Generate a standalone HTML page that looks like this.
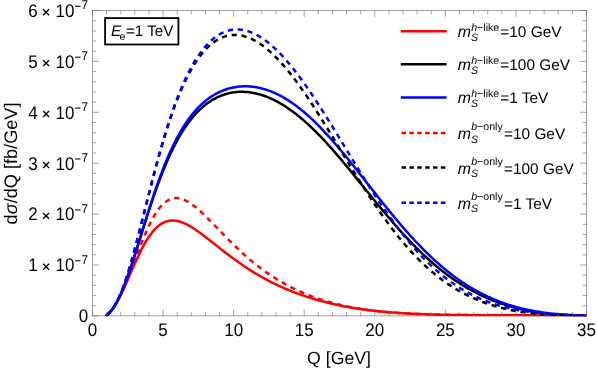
<!DOCTYPE html>
<html><head><meta charset="utf-8"><title>plot</title>
<style>html,body{margin:0;padding:0;background:#fff}svg{display:block}svg{will-change:transform}text{font-family:"Liberation Sans",sans-serif;fill:#000;text-rendering:geometricPrecision}</style>
</head><body>
<svg width="598" height="371" viewBox="0 0 598 371">
<rect width="598" height="371" fill="#fff"/>
<rect x="92.50" y="10.50" width="493.99" height="305.40" fill="none" stroke="#666666" stroke-width="0.6"/>
<clipPath id="pc"><rect x="90.50" y="8.50" width="496.39" height="307.70"/></clipPath>
<g fill="none" stroke-width="2.5" stroke-linejoin="round" clip-path="url(#pc)">
<path d="M106.61,315.40 L106.97,315.19 L107.32,314.91 L107.67,314.59 L108.03,314.26 L108.38,313.92 L108.73,313.57 L109.08,313.20 L109.44,312.83 L109.79,312.44 L110.14,312.04 L110.50,311.63 L110.85,311.20 L111.20,310.77 L111.55,310.33 L111.91,309.87 L112.26,309.40 L112.61,308.92 L112.97,308.43 L113.32,307.92 L113.67,307.41 L114.02,306.88 L114.38,306.35 L114.73,305.80 L115.08,305.24 L115.44,304.67 L115.79,304.09 L116.14,303.50 L116.49,302.90 L116.85,302.28 L117.20,301.66 L117.55,301.03 L117.91,300.39 L118.26,299.74 L118.61,299.08 L118.96,298.41 L119.32,297.73 L119.67,297.05 L120.02,296.35 L120.38,295.65 L120.73,294.94 L121.08,294.23 L121.43,293.50 L121.79,292.77 L122.14,292.03 L122.49,291.29 L122.85,290.54 L123.20,289.79 L123.55,289.02 L123.90,288.26 L124.26,287.49 L124.61,286.71 L124.96,285.93 L125.32,285.15 L125.67,284.36 L126.02,283.57 L126.37,282.78 L126.73,281.98 L127.08,281.18 L127.43,280.38 L127.78,279.58 L128.14,278.77 L128.49,277.97 L128.84,277.16 L129.20,276.35 L129.55,275.54 L129.90,274.73 L130.25,273.92 L130.61,273.12 L130.96,272.31 L131.31,271.50 L131.67,270.69 L132.02,269.89 L132.37,269.08 L132.72,268.28 L133.08,267.48 L133.43,266.69 L133.78,265.89 L134.14,265.10 L134.49,264.31 L134.84,263.53 L136.25,260.42 L137.66,257.38 L139.08,254.43 L140.49,251.57 L141.90,248.80 L143.31,246.15 L144.72,243.62 L146.13,241.21 L147.54,238.93 L148.96,236.78 L150.37,234.77 L151.78,232.90 L153.19,231.16 L154.60,229.57 L156.01,228.11 L157.42,226.79 L158.84,225.60 L160.25,224.55 L161.66,223.63 L163.07,222.83 L164.48,222.16 L165.89,221.61 L167.30,221.17 L168.72,220.85 L170.13,220.63 L171.54,220.51 L172.95,220.49 L174.36,220.57 L175.77,220.73 L177.18,220.97 L178.60,221.30 L180.01,221.69 L181.42,222.16 L182.83,222.69 L184.24,223.28 L185.65,223.93 L187.06,224.63 L188.48,225.38 L189.89,226.17 L191.30,227.01 L192.71,227.88 L194.12,228.79 L195.53,229.73 L196.94,230.69 L198.36,231.68 L199.77,232.70 L201.18,233.73 L202.59,234.78 L204.00,235.84 L205.41,236.92 L206.82,238.01 L208.23,239.10 L209.65,240.21 L211.06,241.32 L212.47,242.43 L213.88,243.54 L215.29,244.66 L216.70,245.78 L218.11,246.89 L219.53,248.00 L220.94,249.11 L222.35,250.21 L223.76,251.30 L225.17,252.39 L226.58,253.48 L227.99,254.55 L229.41,255.62 L230.82,256.67 L232.23,257.72 L233.64,258.76 L235.05,259.79 L236.46,260.80 L237.87,261.81 L239.29,262.81 L240.70,263.79 L242.11,264.76 L243.52,265.72 L244.93,266.67 L246.34,267.61 L247.75,268.53 L249.17,269.44 L250.58,270.34 L251.99,271.23 L253.40,272.10 L254.81,272.96 L256.22,273.81 L257.63,274.65 L259.05,275.48 L260.46,276.29 L261.87,277.09 L263.28,277.88 L264.69,278.65 L266.10,279.42 L267.51,280.17 L268.93,280.91 L270.34,281.64 L271.75,282.35 L273.16,283.06 L274.57,283.75 L275.98,284.44 L277.39,285.11 L278.80,285.77 L280.22,286.42 L281.63,287.06 L283.04,287.68 L284.45,288.30 L285.86,288.91 L287.27,289.50 L288.68,290.09 L290.10,290.67 L291.51,291.23 L292.92,291.79 L294.33,292.34 L295.74,292.87 L297.15,293.40 L298.56,293.92 L299.98,294.43 L301.39,294.93 L302.80,295.42 L304.21,295.90 L305.62,296.37 L307.03,296.83 L308.44,297.29 L309.86,297.74 L311.27,298.17 L312.68,298.61 L314.09,299.03 L315.50,299.44 L316.91,299.85 L318.32,300.25 L319.74,300.64 L321.15,301.02 L322.56,301.39 L323.97,301.76 L325.38,302.12 L326.79,302.47 L328.20,302.82 L329.62,303.16 L331.03,303.49 L332.44,303.82 L333.85,304.13 L335.26,304.45 L336.67,304.75 L338.08,305.05 L339.50,305.34 L340.91,305.63 L342.32,305.91 L343.73,306.18 L345.14,306.45 L346.55,306.71 L347.96,306.96 L349.37,307.21 L350.79,307.46 L352.20,307.69 L353.61,307.93 L355.02,308.15 L356.43,308.37 L357.84,308.59 L359.25,308.80 L360.67,309.01 L362.08,309.21 L363.49,309.40 L364.90,309.59 L366.31,309.78 L367.72,309.96 L369.13,310.14 L370.55,310.31 L371.96,310.48 L373.37,310.64 L374.78,310.80 L376.19,310.95 L377.60,311.10 L379.01,311.25 L380.43,311.39 L381.84,311.53 L383.25,311.66 L384.66,311.80 L386.07,311.92 L387.48,312.04 L388.89,312.16 L390.31,312.28 L391.72,312.39 L393.13,312.50 L394.54,312.61 L395.95,312.71 L397.36,312.81 L398.77,312.91 L400.19,313.00 L401.60,313.09 L403.01,313.18 L404.42,313.26 L405.83,313.35 L407.24,313.43 L408.65,313.50 L410.06,313.58 L411.48,313.65 L412.89,313.72 L414.30,313.79 L415.71,313.85 L417.12,313.91 L418.53,313.97 L419.94,314.03 L421.36,314.09 L422.77,314.14 L424.18,314.20 L425.59,314.25 L427.00,314.30 L428.41,314.34 L429.82,314.39 L431.24,314.43 L432.65,314.47 L434.06,314.51 L435.47,314.55 L436.88,314.59 L438.29,314.63 L439.70,314.66 L441.12,314.69 L442.53,314.72 L443.94,314.76 L445.35,314.79 L446.76,314.81 L448.17,314.84 L449.58,314.87 L451.00,314.89 L452.41,314.92 L453.82,314.94 L455.23,314.96 L456.64,314.98 L458.05,315.00 L459.46,315.02 L460.88,315.04 L462.29,315.06 L463.70,315.07 L465.11,315.09 L466.52,315.11 L467.93,315.12 L469.34,315.13 L470.76,315.15 L472.17,315.16 L473.58,315.17 L474.99,315.18 L476.40,315.20 L477.81,315.21 L479.22,315.22 L480.64,315.23 L482.05,315.24 L483.46,315.24 L484.87,315.25 L486.28,315.26 L487.69,315.27 L489.10,315.28 L490.51,315.28 L491.93,315.29 L493.34,315.30 L494.75,315.30 L496.16,315.31 L497.57,315.31 L498.98,315.32 L500.39,315.32 L501.81,315.33 L503.22,315.33 L504.63,315.34 L506.04,315.34 L507.45,315.34 L508.86,315.35 L510.27,315.35 L511.69,315.35 L513.10,315.36 L514.51,315.36 L515.92,315.36 L517.33,315.36 L518.74,315.37 L520.15,315.37 L521.57,315.37 L522.98,315.37 L524.39,315.38 L525.80,315.38 L527.21,315.38 L528.62,315.38 L530.03,315.38 L531.45,315.38 L532.86,315.38 L534.27,315.39 L535.68,315.39 L537.09,315.39 L538.50,315.39 L539.91,315.39 L541.33,315.39 L542.74,315.39 L544.15,315.39 L545.56,315.39 L546.97,315.39 L548.38,315.39 L549.79,315.39 L551.21,315.40 L552.62,315.40 L554.03,315.40 L555.44,315.40 L556.85,315.40 L558.26,315.40 L559.67,315.40 L561.08,315.40 L562.50,315.40 L563.91,315.40 L565.32,315.40 L566.73,315.40 L568.14,315.40 L569.55,315.40 L570.96,315.40 L572.38,315.40 L573.79,315.40 L575.20,315.40 L576.61,315.40 L578.02,315.40 L579.43,315.40 L580.84,315.40 L582.26,315.40 L583.67,315.40 L585.08,315.40 L586.49,315.40" stroke="#ff0000" stroke-linecap="round"/>
<path d="M106.61,315.40 L106.97,315.30 L107.32,315.05 L107.67,314.73 L108.03,314.38 L108.38,314.00 L108.73,313.61 L109.08,313.21 L109.44,312.81 L109.79,312.40 L110.14,311.98 L110.50,311.55 L110.85,311.12 L111.20,310.68 L111.55,310.23 L111.91,309.78 L112.26,309.31 L112.61,308.84 L112.97,308.36 L113.32,307.87 L113.67,307.36 L114.02,306.85 L114.38,306.33 L114.73,305.80 L115.08,305.26 L115.44,304.70 L115.79,304.14 L116.14,303.57 L116.49,302.98 L116.85,302.39 L117.20,301.78 L117.55,301.16 L117.91,300.53 L118.26,299.89 L118.61,299.24 L118.96,298.58 L119.32,297.91 L119.67,297.23 L120.02,296.54 L120.38,295.83 L120.73,295.12 L121.08,294.40 L121.43,293.66 L121.79,292.92 L122.14,292.17 L122.49,291.40 L122.85,290.63 L123.20,289.85 L123.55,289.06 L123.90,288.26 L124.26,287.46 L124.61,286.64 L124.96,285.82 L125.32,284.99 L125.67,284.15 L126.02,283.30 L126.37,282.45 L126.73,281.59 L127.08,280.72 L127.43,279.85 L127.78,278.97 L128.14,278.08 L128.49,277.19 L128.84,276.30 L129.20,275.40 L129.55,274.49 L129.90,273.58 L130.25,272.67 L130.61,271.75 L130.96,270.83 L131.31,269.91 L131.67,268.98 L132.02,268.05 L132.37,267.12 L132.72,266.19 L133.08,265.25 L133.43,264.31 L133.78,263.38 L134.14,262.44 L134.49,261.50 L134.84,260.56 L136.25,256.80 L137.66,253.07 L139.08,249.37 L140.49,245.73 L141.90,242.15 L143.31,238.66 L144.72,235.27 L146.13,231.99 L147.54,228.83 L148.96,225.80 L150.37,222.91 L151.78,220.17 L153.19,217.58 L154.60,215.16 L156.01,212.89 L157.42,210.79 L158.84,208.86 L160.25,207.09 L161.66,205.49 L163.07,204.06 L164.48,202.78 L165.89,201.67 L167.30,200.72 L168.72,199.92 L170.13,199.28 L171.54,198.77 L172.95,198.41 L174.36,198.18 L175.77,198.08 L177.18,198.11 L178.60,198.25 L180.01,198.50 L181.42,198.87 L182.83,199.33 L184.24,199.89 L185.65,200.53 L187.06,201.27 L188.48,202.07 L189.89,202.96 L191.30,203.90 L192.71,204.92 L194.12,205.98 L195.53,207.10 L196.94,208.27 L198.36,209.49 L199.77,210.74 L201.18,212.03 L202.59,213.35 L204.00,214.69 L205.41,216.06 L206.82,217.46 L208.23,218.87 L209.65,220.29 L211.06,221.73 L212.47,223.18 L213.88,224.63 L215.29,226.09 L216.70,227.56 L218.11,229.02 L219.53,230.49 L220.94,231.95 L222.35,233.41 L223.76,234.86 L225.17,236.31 L226.58,237.74 L227.99,239.17 L229.41,240.59 L230.82,242.00 L232.23,243.39 L233.64,244.77 L235.05,246.14 L236.46,247.50 L237.87,248.84 L239.29,250.17 L240.70,251.48 L242.11,252.77 L243.52,254.05 L244.93,255.31 L246.34,256.55 L247.75,257.78 L249.17,258.99 L250.58,260.18 L251.99,261.36 L253.40,262.52 L254.81,263.66 L256.22,264.78 L257.63,265.89 L259.05,266.98 L260.46,268.05 L261.87,269.10 L263.28,270.14 L264.69,271.16 L266.10,272.16 L267.51,273.14 L268.93,274.11 L270.34,275.06 L271.75,276.00 L273.16,276.91 L274.57,277.82 L275.98,278.70 L277.39,279.57 L278.80,280.43 L280.22,281.26 L281.63,282.09 L283.04,282.90 L284.45,283.69 L285.86,284.47 L287.27,285.23 L288.68,285.98 L290.10,286.71 L291.51,287.43 L292.92,288.14 L294.33,288.83 L295.74,289.51 L297.15,290.17 L298.56,290.83 L299.98,291.46 L301.39,292.09 L302.80,292.70 L304.21,293.30 L305.62,293.89 L307.03,294.47 L308.44,295.03 L309.86,295.58 L311.27,296.12 L312.68,296.65 L314.09,297.17 L315.50,297.68 L316.91,298.17 L318.32,298.66 L319.74,299.13 L321.15,299.59 L322.56,300.05 L323.97,300.49 L325.38,300.92 L326.79,301.34 L328.20,301.76 L329.62,302.16 L331.03,302.55 L332.44,302.94 L333.85,303.31 L335.26,303.68 L336.67,304.04 L338.08,304.39 L339.50,304.73 L340.91,305.06 L342.32,305.38 L343.73,305.70 L345.14,306.00 L346.55,306.30 L347.96,306.60 L349.37,306.88 L350.79,307.16 L352.20,307.43 L353.61,307.69 L355.02,307.94 L356.43,308.19 L357.84,308.43 L359.25,308.67 L360.67,308.89 L362.08,309.12 L363.49,309.33 L364.90,309.54 L366.31,309.74 L367.72,309.94 L369.13,310.13 L370.55,310.32 L371.96,310.50 L373.37,310.68 L374.78,310.85 L376.19,311.01 L377.60,311.17 L379.01,311.32 L380.43,311.47 L381.84,311.62 L383.25,311.76 L384.66,311.90 L386.07,312.03 L387.48,312.15 L388.89,312.28 L390.31,312.40 L391.72,312.51 L393.13,312.62 L394.54,312.73 L395.95,312.84 L397.36,312.94 L398.77,313.03 L400.19,313.13 L401.60,313.22 L403.01,313.30 L404.42,313.39 L405.83,313.47 L407.24,313.55 L408.65,313.62 L410.06,313.70 L411.48,313.77 L412.89,313.83 L414.30,313.90 L415.71,313.96 L417.12,314.02 L418.53,314.08 L419.94,314.13 L421.36,314.19 L422.77,314.24 L424.18,314.29 L425.59,314.34 L427.00,314.38 L428.41,314.43 L429.82,314.47 L431.24,314.51 L432.65,314.55 L434.06,314.59 L435.47,314.62 L436.88,314.66 L438.29,314.69 L439.70,314.72 L441.12,314.75 L442.53,314.78 L443.94,314.81 L445.35,314.83 L446.76,314.86 L448.17,314.88 L449.58,314.91 L451.00,314.93 L452.41,314.95 L453.82,314.97 L455.23,314.99 L456.64,315.01 L458.05,315.03 L459.46,315.05 L460.88,315.06 L462.29,315.08 L463.70,315.09 L465.11,315.11 L466.52,315.12 L467.93,315.13 L469.34,315.15 L470.76,315.16 L472.17,315.17 L473.58,315.18 L474.99,315.19 L476.40,315.20 L477.81,315.21 L479.22,315.22 L480.64,315.23 L482.05,315.24 L483.46,315.25 L484.87,315.25 L486.28,315.26 L487.69,315.27 L489.10,315.27 L490.51,315.28 L491.93,315.29 L493.34,315.29 L494.75,315.30 L496.16,315.30 L497.57,315.31 L498.98,315.31 L500.39,315.32 L501.81,315.32 L503.22,315.32 L504.63,315.33 L506.04,315.33 L507.45,315.34 L508.86,315.34 L510.27,315.34 L511.69,315.35 L513.10,315.35 L514.51,315.35 L515.92,315.35 L517.33,315.36 L518.74,315.36 L520.15,315.36 L521.57,315.36 L522.98,315.36 L524.39,315.37 L525.80,315.37 L527.21,315.37 L528.62,315.37 L530.03,315.37 L531.45,315.38 L532.86,315.38 L534.27,315.38 L535.68,315.38 L537.09,315.38 L538.50,315.38 L539.91,315.38 L541.33,315.38 L542.74,315.39 L544.15,315.39 L545.56,315.39 L546.97,315.39 L548.38,315.39 L549.79,315.39 L551.21,315.39 L552.62,315.39 L554.03,315.39 L555.44,315.39 L556.85,315.39 L558.26,315.39 L559.67,315.39 L561.08,315.40 L562.50,315.40 L563.91,315.40 L565.32,315.40 L566.73,315.40 L568.14,315.40 L569.55,315.40 L570.96,315.40 L572.38,315.40 L573.79,315.40 L575.20,315.40 L576.61,315.40 L578.02,315.40 L579.43,315.40 L580.84,315.40 L582.26,315.40 L583.67,315.40 L585.08,315.40 L586.49,315.40" stroke="#ff0000" stroke-dasharray="5.2 4.7"/>
<path d="M106.61,315.40 L106.97,314.99 L107.32,314.64 L107.67,314.30 L108.03,313.97 L108.38,313.64 L108.73,313.29 L109.08,312.94 L109.44,312.58 L109.79,312.21 L110.14,311.83 L110.50,311.44 L110.85,311.03 L111.20,310.61 L111.55,310.18 L111.91,309.73 L112.26,309.27 L112.61,308.80 L112.97,308.31 L113.32,307.81 L113.67,307.29 L114.02,306.76 L114.38,306.22 L114.73,305.66 L115.08,305.08 L115.44,304.50 L115.79,303.90 L116.14,303.28 L116.49,302.65 L116.85,302.01 L117.20,301.35 L117.55,300.68 L117.91,300.00 L118.26,299.30 L118.61,298.59 L118.96,297.86 L119.32,297.13 L119.67,296.38 L120.02,295.61 L120.38,294.84 L120.73,294.05 L121.08,293.25 L121.43,292.44 L121.79,291.61 L122.14,290.78 L122.49,289.93 L122.85,289.07 L123.20,288.20 L123.55,287.32 L123.90,286.43 L124.26,285.53 L124.61,284.62 L124.96,283.70 L125.32,282.77 L125.67,281.83 L126.02,280.88 L126.37,279.92 L126.73,278.95 L127.08,277.98 L127.43,276.99 L127.78,276.00 L128.14,275.00 L128.49,273.99 L128.84,272.98 L129.20,271.95 L129.55,270.93 L129.90,269.89 L130.25,268.85 L130.61,267.80 L130.96,266.75 L131.31,265.69 L131.67,264.62 L132.02,263.55 L132.37,262.48 L132.72,261.40 L133.08,260.32 L133.43,259.23 L133.78,258.14 L134.14,257.04 L134.49,255.94 L134.84,254.84 L136.25,250.40 L137.66,245.93 L139.08,241.43 L140.49,236.92 L141.90,232.42 L143.31,227.93 L144.72,223.47 L146.13,219.03 L147.54,214.64 L148.96,210.30 L150.37,206.02 L151.78,201.80 L153.19,197.65 L154.60,193.57 L156.01,189.57 L157.42,185.66 L158.84,181.83 L160.25,178.09 L161.66,174.43 L163.07,170.88 L164.48,167.41 L165.89,164.04 L167.30,160.76 L168.72,157.58 L170.13,154.49 L171.54,151.50 L172.95,148.60 L174.36,145.80 L175.77,143.09 L177.18,140.47 L178.60,137.94 L180.01,135.49 L181.42,133.14 L182.83,130.87 L184.24,128.68 L185.65,126.58 L187.06,124.56 L188.48,122.61 L189.89,120.75 L191.30,118.96 L192.71,117.24 L194.12,115.59 L195.53,114.01 L196.94,112.50 L198.36,111.06 L199.77,109.68 L201.18,108.37 L202.59,107.12 L204.00,105.92 L205.41,104.79 L206.82,103.71 L208.23,102.69 L209.65,101.72 L211.06,100.80 L212.47,99.93 L213.88,99.12 L215.29,98.35 L216.70,97.63 L218.11,96.96 L219.53,96.34 L220.94,95.75 L222.35,95.22 L223.76,94.72 L225.17,94.27 L226.58,93.85 L227.99,93.48 L229.41,93.15 L230.82,92.85 L232.23,92.59 L233.64,92.37 L235.05,92.19 L236.46,92.04 L237.87,91.93 L239.29,91.85 L240.70,91.81 L242.11,91.80 L243.52,91.83 L244.93,91.89 L246.34,91.98 L247.75,92.10 L249.17,92.26 L250.58,92.45 L251.99,92.67 L253.40,92.92 L254.81,93.20 L256.22,93.51 L257.63,93.86 L259.05,94.23 L260.46,94.63 L261.87,95.07 L263.28,95.53 L264.69,96.02 L266.10,96.54 L267.51,97.09 L268.93,97.67 L270.34,98.28 L271.75,98.91 L273.16,99.58 L274.57,100.27 L275.98,100.99 L277.39,101.73 L278.80,102.51 L280.22,103.31 L281.63,104.14 L283.04,104.99 L284.45,105.87 L285.86,106.78 L287.27,107.72 L288.68,108.68 L290.10,109.66 L291.51,110.67 L292.92,111.71 L294.33,112.77 L295.74,113.86 L297.15,114.97 L298.56,116.10 L299.98,117.26 L301.39,118.44 L302.80,119.64 L304.21,120.87 L305.62,122.12 L307.03,123.39 L308.44,124.68 L309.86,125.99 L311.27,127.33 L312.68,128.68 L314.09,130.06 L315.50,131.45 L316.91,132.86 L318.32,134.30 L319.74,135.75 L321.15,137.21 L322.56,138.70 L323.97,140.20 L325.38,141.72 L326.79,143.25 L328.20,144.80 L329.62,146.37 L331.03,147.94 L332.44,149.54 L333.85,151.14 L335.26,152.76 L336.67,154.39 L338.08,156.03 L339.50,157.68 L340.91,159.34 L342.32,161.01 L343.73,162.69 L345.14,164.38 L346.55,166.08 L347.96,167.78 L349.37,169.49 L350.79,171.21 L352.20,172.93 L353.61,174.66 L355.02,176.39 L356.43,178.13 L357.84,179.87 L359.25,181.61 L360.67,183.35 L362.08,185.09 L363.49,186.84 L364.90,188.58 L366.31,190.33 L367.72,192.07 L369.13,193.81 L370.55,195.55 L371.96,197.29 L373.37,199.02 L374.78,200.75 L376.19,202.48 L377.60,204.20 L379.01,205.92 L380.43,207.62 L381.84,209.33 L383.25,211.02 L384.66,212.71 L386.07,214.39 L387.48,216.07 L388.89,217.73 L390.31,219.38 L391.72,221.03 L393.13,222.66 L394.54,224.29 L395.95,225.90 L397.36,227.50 L398.77,229.09 L400.19,230.67 L401.60,232.24 L403.01,233.79 L404.42,235.33 L405.83,236.86 L407.24,238.37 L408.65,239.87 L410.06,241.36 L411.48,242.83 L412.89,244.28 L414.30,245.73 L415.71,247.15 L417.12,248.56 L418.53,249.96 L419.94,251.34 L421.36,252.70 L422.77,254.05 L424.18,255.38 L425.59,256.70 L427.00,258.00 L428.41,259.28 L429.82,260.55 L431.24,261.80 L432.65,263.03 L434.06,264.25 L435.47,265.44 L436.88,266.63 L438.29,267.79 L439.70,268.94 L441.12,270.07 L442.53,271.19 L443.94,272.28 L445.35,273.36 L446.76,274.43 L448.17,275.47 L449.58,276.50 L451.00,277.52 L452.41,278.51 L453.82,279.49 L455.23,280.46 L456.64,281.40 L458.05,282.33 L459.46,283.25 L460.88,284.14 L462.29,285.03 L463.70,285.89 L465.11,286.74 L466.52,287.57 L467.93,288.39 L469.34,289.20 L470.76,289.98 L472.17,290.75 L473.58,291.51 L474.99,292.25 L476.40,292.98 L477.81,293.69 L479.22,294.39 L480.64,295.07 L482.05,295.74 L483.46,296.40 L484.87,297.04 L486.28,297.67 L487.69,298.28 L489.10,298.88 L490.51,299.47 L491.93,300.04 L493.34,300.60 L494.75,301.15 L496.16,301.69 L497.57,302.21 L498.98,302.72 L500.39,303.22 L501.81,303.70 L503.22,304.18 L504.63,304.64 L506.04,305.09 L507.45,305.53 L508.86,305.96 L510.27,306.38 L511.69,306.78 L513.10,307.18 L514.51,307.56 L515.92,307.93 L517.33,308.30 L518.74,308.65 L520.15,308.99 L521.57,309.32 L522.98,309.65 L524.39,309.96 L525.80,310.26 L527.21,310.55 L528.62,310.84 L530.03,311.11 L531.45,311.37 L532.86,311.63 L534.27,311.87 L535.68,312.11 L537.09,312.33 L538.50,312.55 L539.91,312.76 L541.33,312.96 L542.74,313.15 L544.15,313.34 L545.56,313.51 L546.97,313.67 L548.38,313.83 L549.79,313.98 L551.21,314.12 L552.62,314.25 L554.03,314.38 L555.44,314.49 L556.85,314.60 L558.26,314.70 L559.67,314.79 L561.08,314.88 L562.50,314.95 L563.91,315.02 L565.32,315.09 L566.73,315.14 L568.14,315.19 L569.55,315.24 L570.96,315.27 L572.38,315.30 L573.79,315.33 L575.20,315.35 L576.61,315.37 L578.02,315.38 L579.43,315.39 L580.84,315.39 L582.26,315.40 L583.67,315.40 L585.08,315.40 L586.49,315.40" stroke="#000000" stroke-linecap="round"/>
<path d="M106.61,315.40 L106.97,315.35 L107.32,315.15 L107.67,314.85 L108.03,314.50 L108.38,314.12 L108.73,313.71 L109.08,313.29 L109.44,312.86 L109.79,312.43 L110.14,311.98 L110.50,311.53 L110.85,311.07 L111.20,310.60 L111.55,310.13 L111.91,309.64 L112.26,309.15 L112.61,308.65 L112.97,308.13 L113.32,307.61 L113.67,307.08 L114.02,306.53 L114.38,305.98 L114.73,305.41 L115.08,304.83 L115.44,304.24 L115.79,303.64 L116.14,303.03 L116.49,302.41 L116.85,301.77 L117.20,301.12 L117.55,300.46 L117.91,299.78 L118.26,299.10 L118.61,298.40 L118.96,297.69 L119.32,296.97 L119.67,296.23 L120.02,295.49 L120.38,294.73 L120.73,293.96 L121.08,293.17 L121.43,292.38 L121.79,291.57 L122.14,290.75 L122.49,289.92 L122.85,289.08 L123.20,288.23 L123.55,287.37 L123.90,286.49 L124.26,285.61 L124.61,284.71 L124.96,283.81 L125.32,282.89 L125.67,281.97 L126.02,281.03 L126.37,280.08 L126.73,279.13 L127.08,278.17 L127.43,277.19 L127.78,276.21 L128.14,275.22 L128.49,274.22 L128.84,273.21 L129.20,272.20 L129.55,271.17 L129.90,270.14 L130.25,269.11 L130.61,268.06 L130.96,267.01 L131.31,265.95 L131.67,264.89 L132.02,263.82 L132.37,262.74 L132.72,261.66 L133.08,260.57 L133.43,259.48 L133.78,258.38 L134.14,257.28 L134.49,256.17 L134.84,255.06 L136.25,250.58 L137.66,246.05 L139.08,241.48 L140.49,236.89 L141.90,232.30 L143.31,227.70 L144.72,223.13 L146.13,218.58 L147.54,214.06 L148.96,209.60 L150.37,205.18 L151.78,200.83 L153.19,196.55 L154.60,192.34 L156.01,188.21 L157.42,184.17 L158.84,180.21 L160.25,176.35 L161.66,172.58 L163.07,168.90 L164.48,165.33 L165.89,161.85 L167.30,158.47 L168.72,155.20 L170.13,152.02 L171.54,148.94 L172.95,145.96 L174.36,143.08 L175.77,140.30 L177.18,137.61 L178.60,135.01 L180.01,132.51 L181.42,130.09 L182.83,127.77 L184.24,125.53 L185.65,123.38 L187.06,121.31 L188.48,119.32 L189.89,117.41 L191.30,115.57 L192.71,113.81 L194.12,112.12 L195.53,110.51 L196.94,108.96 L198.36,107.47 L199.77,106.06 L201.18,104.70 L202.59,103.41 L204.00,102.17 L205.41,100.99 L206.82,99.87 L208.23,98.80 L209.65,97.78 L211.06,96.82 L212.47,95.91 L213.88,95.04 L215.29,94.22 L216.70,93.45 L218.11,92.72 L219.53,92.04 L220.94,91.40 L222.35,90.80 L223.76,90.24 L225.17,89.72 L226.58,89.24 L227.99,88.80 L229.41,88.40 L230.82,88.03 L232.23,87.70 L233.64,87.41 L235.05,87.15 L236.46,86.93 L237.87,86.74 L239.29,86.59 L240.70,86.47 L242.11,86.38 L243.52,86.32 L244.93,86.30 L246.34,86.31 L247.75,86.35 L249.17,86.42 L250.58,86.53 L251.99,86.66 L253.40,86.83 L254.81,87.03 L256.22,87.25 L257.63,87.51 L259.05,87.80 L260.46,88.12 L261.87,88.47 L263.28,88.85 L264.69,89.26 L266.10,89.70 L267.51,90.16 L268.93,90.66 L270.34,91.19 L271.75,91.75 L273.16,92.33 L274.57,92.95 L275.98,93.59 L277.39,94.26 L278.80,94.96 L280.22,95.69 L281.63,96.45 L283.04,97.24 L284.45,98.05 L285.86,98.90 L287.27,99.77 L288.68,100.66 L290.10,101.59 L291.51,102.54 L292.92,103.52 L294.33,104.53 L295.74,105.56 L297.15,106.62 L298.56,107.70 L299.98,108.82 L301.39,109.95 L302.80,111.11 L304.21,112.30 L305.62,113.51 L307.03,114.74 L308.44,116.00 L309.86,117.28 L311.27,118.59 L312.68,119.92 L314.09,121.27 L315.50,122.64 L316.91,124.03 L318.32,125.44 L319.74,126.88 L321.15,128.33 L322.56,129.81 L323.97,131.30 L325.38,132.81 L326.79,134.34 L328.20,135.88 L329.62,137.45 L331.03,139.03 L332.44,140.62 L333.85,142.23 L335.26,143.86 L336.67,145.50 L338.08,147.15 L339.50,148.82 L340.91,150.50 L342.32,152.19 L343.73,153.89 L345.14,155.60 L346.55,157.32 L347.96,159.05 L349.37,160.79 L350.79,162.54 L352.20,164.29 L353.61,166.05 L355.02,167.82 L356.43,169.59 L357.84,171.37 L359.25,173.15 L360.67,174.94 L362.08,176.73 L363.49,178.52 L364.90,180.31 L366.31,182.11 L367.72,183.90 L369.13,185.70 L370.55,187.49 L371.96,189.29 L373.37,191.08 L374.78,192.87 L376.19,194.65 L377.60,196.44 L379.01,198.22 L380.43,199.99 L381.84,201.76 L383.25,203.52 L384.66,205.28 L386.07,207.03 L387.48,208.78 L388.89,210.51 L390.31,212.24 L391.72,213.96 L393.13,215.67 L394.54,217.37 L395.95,219.06 L397.36,220.75 L398.77,222.42 L400.19,224.07 L401.60,225.72 L403.01,227.36 L404.42,228.98 L405.83,230.59 L407.24,232.19 L408.65,233.78 L410.06,235.35 L411.48,236.90 L412.89,238.45 L414.30,239.98 L415.71,241.49 L417.12,242.99 L418.53,244.47 L419.94,245.94 L421.36,247.39 L422.77,248.83 L424.18,250.25 L425.59,251.66 L427.00,253.05 L428.41,254.42 L429.82,255.77 L431.24,257.11 L432.65,258.43 L434.06,259.74 L435.47,261.03 L436.88,262.30 L438.29,263.55 L439.70,264.79 L441.12,266.01 L442.53,267.21 L443.94,268.39 L445.35,269.56 L446.76,270.70 L448.17,271.84 L449.58,272.95 L451.00,274.04 L452.41,275.12 L453.82,276.18 L455.23,277.23 L456.64,278.25 L458.05,279.26 L459.46,280.25 L460.88,281.23 L462.29,282.18 L463.70,283.12 L465.11,284.05 L466.52,284.95 L467.93,285.84 L469.34,286.71 L470.76,287.57 L472.17,288.41 L473.58,289.23 L474.99,290.03 L476.40,290.82 L477.81,291.60 L479.22,292.36 L480.64,293.10 L482.05,293.82 L483.46,294.53 L484.87,295.23 L486.28,295.91 L487.69,296.57 L489.10,297.22 L490.51,297.86 L491.93,298.48 L493.34,299.08 L494.75,299.68 L496.16,300.25 L497.57,300.82 L498.98,301.37 L500.39,301.90 L501.81,302.42 L503.22,302.93 L504.63,303.43 L506.04,303.91 L507.45,304.38 L508.86,304.84 L510.27,305.29 L511.69,305.72 L513.10,306.14 L514.51,306.55 L515.92,306.94 L517.33,307.33 L518.74,307.70 L520.15,308.07 L521.57,308.42 L522.98,308.76 L524.39,309.09 L525.80,309.41 L527.21,309.72 L528.62,310.02 L530.03,310.30 L531.45,310.58 L532.86,310.85 L534.27,311.11 L535.68,311.36 L537.09,311.60 L538.50,311.83 L539.91,312.06 L541.33,312.27 L542.74,312.48 L544.15,312.68 L545.56,312.86 L546.97,313.05 L548.38,313.22 L549.79,313.38 L551.21,313.54 L552.62,313.69 L554.03,313.84 L555.44,313.97 L556.85,314.10 L558.26,314.22 L559.67,314.34 L561.08,314.45 L562.50,314.55 L563.91,314.65 L565.32,314.73 L566.73,314.82 L568.14,314.90 L569.55,314.97 L570.96,315.03 L572.38,315.09 L573.79,315.15 L575.20,315.20 L576.61,315.24 L578.02,315.28 L579.43,315.31 L580.84,315.34 L582.26,315.37 L583.67,315.38 L585.08,315.40 L586.49,315.40" stroke="#0000ff" stroke-linecap="round"/>
<path d="M106.61,315.40 L106.97,315.19 L107.32,314.88 L107.67,314.54 L108.03,314.20 L108.38,313.85 L108.73,313.49 L109.08,313.12 L109.44,312.75 L109.79,312.37 L110.14,311.97 L110.50,311.57 L110.85,311.15 L111.20,310.72 L111.55,310.28 L111.91,309.82 L112.26,309.36 L112.61,308.87 L112.97,308.38 L113.32,307.87 L113.67,307.34 L114.02,306.80 L114.38,306.24 L114.73,305.67 L115.08,305.08 L115.44,304.48 L115.79,303.86 L116.14,303.23 L116.49,302.57 L116.85,301.91 L117.20,301.23 L117.55,300.53 L117.91,299.81 L118.26,299.08 L118.61,298.34 L118.96,297.57 L119.32,296.80 L119.67,296.00 L120.02,295.19 L120.38,294.37 L120.73,293.52 L121.08,292.67 L121.43,291.80 L121.79,290.91 L122.14,290.01 L122.49,289.09 L122.85,288.16 L123.20,287.21 L123.55,286.25 L123.90,285.27 L124.26,284.28 L124.61,283.28 L124.96,282.26 L125.32,281.23 L125.67,280.18 L126.02,279.12 L126.37,278.05 L126.73,276.97 L127.08,275.87 L127.43,274.76 L127.78,273.64 L128.14,272.51 L128.49,271.36 L128.84,270.21 L129.20,269.04 L129.55,267.86 L129.90,266.67 L130.25,265.48 L130.61,264.27 L130.96,263.05 L131.31,261.82 L131.67,260.58 L132.02,259.33 L132.37,258.08 L132.72,256.81 L133.08,255.54 L133.43,254.26 L133.78,252.97 L134.14,251.68 L134.49,250.37 L134.84,249.06 L136.25,243.76 L137.66,238.36 L139.08,232.90 L140.49,227.37 L141.90,221.80 L143.31,216.21 L144.72,210.60 L146.13,205.00 L147.54,199.40 L148.96,193.84 L150.37,188.31 L151.78,182.83 L153.19,177.41 L154.60,172.05 L156.01,166.77 L157.42,161.57 L158.84,156.46 L160.25,151.44 L161.66,146.52 L163.07,141.70 L164.48,136.99 L165.89,132.39 L167.30,127.90 L168.72,123.52 L170.13,119.26 L171.54,115.12 L172.95,111.10 L174.36,107.19 L175.77,103.40 L177.18,99.74 L178.60,96.19 L180.01,92.76 L181.42,89.44 L182.83,86.25 L184.24,83.16 L185.65,80.19 L187.06,77.34 L188.48,74.59 L189.89,71.95 L191.30,69.42 L192.71,67.00 L194.12,64.68 L195.53,62.46 L196.94,60.34 L198.36,58.33 L199.77,56.40 L201.18,54.58 L202.59,52.84 L204.00,51.20 L205.41,49.65 L206.82,48.18 L208.23,46.80 L209.65,45.51 L211.06,44.30 L212.47,43.16 L213.88,42.11 L215.29,41.14 L216.70,40.24 L218.11,39.42 L219.53,38.67 L220.94,38.00 L222.35,37.40 L223.76,36.86 L225.17,36.40 L226.58,36.00 L227.99,35.66 L229.41,35.40 L230.82,35.19 L232.23,35.05 L233.64,34.98 L235.05,34.96 L236.46,35.00 L237.87,35.10 L239.29,35.26 L240.70,35.48 L242.11,35.75 L243.52,36.08 L244.93,36.47 L246.34,36.90 L247.75,37.39 L249.17,37.94 L250.58,38.53 L251.99,39.18 L253.40,39.88 L254.81,40.62 L256.22,41.42 L257.63,42.26 L259.05,43.15 L260.46,44.09 L261.87,45.07 L263.28,46.10 L264.69,47.17 L266.10,48.29 L267.51,49.45 L268.93,50.65 L270.34,51.90 L271.75,53.18 L273.16,54.51 L274.57,55.88 L275.98,57.28 L277.39,58.73 L278.80,60.21 L280.22,61.73 L281.63,63.29 L283.04,64.88 L284.45,66.51 L285.86,68.17 L287.27,69.86 L288.68,71.59 L290.10,73.35 L291.51,75.14 L292.92,76.96 L294.33,78.81 L295.74,80.68 L297.15,82.59 L298.56,84.52 L299.98,86.48 L301.39,88.47 L302.80,90.47 L304.21,92.51 L305.62,94.56 L307.03,96.64 L308.44,98.73 L309.86,100.85 L311.27,102.99 L312.68,105.14 L314.09,107.31 L315.50,109.50 L316.91,111.71 L318.32,113.92 L319.74,116.16 L321.15,118.40 L322.56,120.66 L323.97,122.92 L325.38,125.20 L326.79,127.49 L328.20,129.78 L329.62,132.08 L331.03,134.39 L332.44,136.70 L333.85,139.02 L335.26,141.34 L336.67,143.67 L338.08,145.99 L339.50,148.32 L340.91,150.65 L342.32,152.97 L343.73,155.30 L345.14,157.62 L346.55,159.94 L347.96,162.25 L349.37,164.56 L350.79,166.86 L352.20,169.16 L353.61,171.45 L355.02,173.73 L356.43,176.01 L357.84,178.27 L359.25,180.52 L360.67,182.77 L362.08,185.00 L363.49,187.22 L364.90,189.42 L366.31,191.62 L367.72,193.80 L369.13,195.96 L370.55,198.11 L371.96,200.24 L373.37,202.36 L374.78,204.46 L376.19,206.54 L377.60,208.61 L379.01,210.65 L380.43,212.68 L381.84,214.69 L383.25,216.68 L384.66,218.65 L386.07,220.60 L387.48,222.53 L388.89,224.44 L390.31,226.33 L391.72,228.20 L393.13,230.04 L394.54,231.86 L395.95,233.66 L397.36,235.44 L398.77,237.20 L400.19,238.93 L401.60,240.64 L403.01,242.33 L404.42,243.99 L405.83,245.63 L407.24,247.25 L408.65,248.84 L410.06,250.41 L411.48,251.96 L412.89,253.49 L414.30,254.99 L415.71,256.46 L417.12,257.92 L418.53,259.34 L419.94,260.75 L421.36,262.13 L422.77,263.49 L424.18,264.83 L425.59,266.14 L427.00,267.43 L428.41,268.70 L429.82,269.95 L431.24,271.17 L432.65,272.37 L434.06,273.54 L435.47,274.70 L436.88,275.83 L438.29,276.94 L439.70,278.03 L441.12,279.10 L442.53,280.15 L443.94,281.17 L445.35,282.18 L446.76,283.16 L448.17,284.12 L449.58,285.07 L451.00,285.99 L452.41,286.89 L453.82,287.77 L455.23,288.64 L456.64,289.48 L458.05,290.31 L459.46,291.12 L460.88,291.91 L462.29,292.68 L463.70,293.43 L465.11,294.17 L466.52,294.89 L467.93,295.59 L469.34,296.27 L470.76,296.94 L472.17,297.59 L473.58,298.22 L474.99,298.84 L476.40,299.45 L477.81,300.04 L479.22,300.61 L480.64,301.17 L482.05,301.71 L483.46,302.24 L484.87,302.75 L486.28,303.26 L487.69,303.74 L489.10,304.22 L490.51,304.68 L491.93,305.13 L493.34,305.56 L494.75,305.98 L496.16,306.39 L497.57,306.79 L498.98,307.18 L500.39,307.55 L501.81,307.92 L503.22,308.27 L504.63,308.61 L506.04,308.94 L507.45,309.26 L508.86,309.57 L510.27,309.87 L511.69,310.16 L513.10,310.43 L514.51,310.70 L515.92,310.96 L517.33,311.21 L518.74,311.45 L520.15,311.69 L521.57,311.91 L522.98,312.12 L524.39,312.33 L525.80,312.53 L527.21,312.72 L528.62,312.90 L530.03,313.07 L531.45,313.24 L532.86,313.39 L534.27,313.55 L535.68,313.69 L537.09,313.83 L538.50,313.95 L539.91,314.08 L541.33,314.19 L542.74,314.30 L544.15,314.40 L545.56,314.50 L546.97,314.59 L548.38,314.68 L549.79,314.75 L551.21,314.83 L552.62,314.89 L554.03,314.96 L555.44,315.01 L556.85,315.07 L558.26,315.11 L559.67,315.16 L561.08,315.19 L562.50,315.23 L563.91,315.26 L565.32,315.29 L566.73,315.31 L568.14,315.33 L569.55,315.35 L570.96,315.36 L572.38,315.37 L573.79,315.38 L575.20,315.39 L576.61,315.39 L578.02,315.39 L579.43,315.40 L580.84,315.40 L582.26,315.40 L583.67,315.40 L585.08,315.40 L586.49,315.40" stroke="#000000" stroke-dasharray="5.2 4.7"/>
<path d="M106.61,315.40 L106.97,314.88 L107.32,314.48 L107.67,314.13 L108.03,313.79 L108.38,313.46 L108.73,313.12 L109.08,312.78 L109.44,312.43 L109.79,312.07 L110.14,311.70 L110.50,311.31 L110.85,310.92 L111.20,310.51 L111.55,310.09 L111.91,309.65 L112.26,309.20 L112.61,308.73 L112.97,308.25 L113.32,307.75 L113.67,307.24 L114.02,306.71 L114.38,306.16 L114.73,305.60 L115.08,305.02 L115.44,304.42 L115.79,303.81 L116.14,303.18 L116.49,302.53 L116.85,301.87 L117.20,301.19 L117.55,300.49 L117.91,299.78 L118.26,299.05 L118.61,298.30 L118.96,297.54 L119.32,296.76 L119.67,295.97 L120.02,295.15 L120.38,294.33 L120.73,293.48 L121.08,292.62 L121.43,291.75 L121.79,290.85 L122.14,289.95 L122.49,289.02 L122.85,288.09 L123.20,287.13 L123.55,286.16 L123.90,285.18 L124.26,284.18 L124.61,283.17 L124.96,282.15 L125.32,281.11 L125.67,280.06 L126.02,278.99 L126.37,277.91 L126.73,276.82 L127.08,275.72 L127.43,274.60 L127.78,273.47 L128.14,272.33 L128.49,271.18 L128.84,270.01 L129.20,268.84 L129.55,267.65 L129.90,266.45 L130.25,265.25 L130.61,264.03 L130.96,262.80 L131.31,261.56 L131.67,260.32 L132.02,259.06 L132.37,257.80 L132.72,256.53 L133.08,255.25 L133.43,253.96 L133.78,252.66 L134.14,251.36 L134.49,250.05 L134.84,248.73 L136.25,243.40 L137.66,237.98 L139.08,232.48 L140.49,226.94 L141.90,221.35 L143.31,215.74 L144.72,210.11 L146.13,204.49 L147.54,198.88 L148.96,193.30 L150.37,187.76 L151.78,182.26 L153.19,176.83 L154.60,171.45 L156.01,166.15 L157.42,160.92 L158.84,155.79 L160.25,150.74 L161.66,145.79 L163.07,140.93 L164.48,136.19 L165.89,131.54 L167.30,127.01 L168.72,122.58 L170.13,118.27 L171.54,114.07 L172.95,109.99 L174.36,106.02 L175.77,102.17 L177.18,98.43 L178.60,94.81 L180.01,91.30 L181.42,87.90 L182.83,84.62 L184.24,81.45 L185.65,78.39 L187.06,75.44 L188.48,72.60 L189.89,69.87 L191.30,67.24 L192.71,64.71 L194.12,62.29 L195.53,59.97 L196.94,57.74 L198.36,55.62 L199.77,53.59 L201.18,51.65 L202.59,49.81 L204.00,48.06 L205.41,46.39 L206.82,44.82 L208.23,43.33 L209.65,41.92 L211.06,40.60 L212.47,39.36 L213.88,38.20 L215.29,37.12 L216.70,36.11 L218.11,35.19 L219.53,34.33 L220.94,33.55 L222.35,32.84 L223.76,32.20 L225.17,31.64 L226.58,31.14 L227.99,30.70 L229.41,30.34 L230.82,30.04 L232.23,29.80 L233.64,29.62 L235.05,29.51 L236.46,29.46 L237.87,29.47 L239.29,29.54 L240.70,29.66 L242.11,29.85 L243.52,30.09 L244.93,30.38 L246.34,30.73 L247.75,31.14 L249.17,31.60 L250.58,32.11 L251.99,32.67 L253.40,33.29 L254.81,33.95 L256.22,34.67 L257.63,35.43 L259.05,36.24 L260.46,37.10 L261.87,38.01 L263.28,38.96 L264.69,39.95 L266.10,41.00 L267.51,42.08 L268.93,43.21 L270.34,44.38 L271.75,45.59 L273.16,46.85 L274.57,48.14 L275.98,49.48 L277.39,50.85 L278.80,52.26 L280.22,53.71 L281.63,55.20 L283.04,56.72 L284.45,58.28 L285.86,59.87 L287.27,61.49 L288.68,63.15 L290.10,64.84 L291.51,66.57 L292.92,68.32 L294.33,70.11 L295.74,71.92 L297.15,73.76 L298.56,75.63 L299.98,77.53 L301.39,79.45 L302.80,81.40 L304.21,83.37 L305.62,85.37 L307.03,87.39 L308.44,89.43 L309.86,91.49 L311.27,93.57 L312.68,95.68 L314.09,97.80 L315.50,99.94 L316.91,102.09 L318.32,104.26 L319.74,106.45 L321.15,108.65 L322.56,110.87 L323.97,113.10 L325.38,115.34 L326.79,117.59 L328.20,119.85 L329.62,122.12 L331.03,124.40 L332.44,126.69 L333.85,128.99 L335.26,131.29 L336.67,133.59 L338.08,135.90 L339.50,138.22 L340.91,140.53 L342.32,142.85 L343.73,145.17 L345.14,147.49 L346.55,149.81 L347.96,152.13 L349.37,154.44 L350.79,156.76 L352.20,159.07 L353.61,161.37 L355.02,163.67 L356.43,165.97 L357.84,168.26 L359.25,170.54 L360.67,172.81 L362.08,175.08 L363.49,177.34 L364.90,179.58 L366.31,181.82 L367.72,184.05 L369.13,186.26 L370.55,188.46 L371.96,190.65 L373.37,192.83 L374.78,194.99 L376.19,197.13 L377.60,199.27 L379.01,201.38 L380.43,203.48 L381.84,205.57 L383.25,207.64 L384.66,209.69 L386.07,211.72 L387.48,213.74 L388.89,215.73 L390.31,217.71 L391.72,219.67 L393.13,221.61 L394.54,223.52 L395.95,225.42 L397.36,227.30 L398.77,229.16 L400.19,230.99 L401.60,232.81 L403.01,234.60 L404.42,236.37 L405.83,238.12 L407.24,239.85 L408.65,241.55 L410.06,243.24 L411.48,244.90 L412.89,246.53 L414.30,248.15 L415.71,249.74 L417.12,251.31 L418.53,252.85 L419.94,254.37 L421.36,255.87 L422.77,257.35 L424.18,258.80 L425.59,260.23 L427.00,261.64 L428.41,263.02 L429.82,264.38 L431.24,265.71 L432.65,267.03 L434.06,268.32 L435.47,269.58 L436.88,270.83 L438.29,272.05 L439.70,273.24 L441.12,274.42 L442.53,275.57 L443.94,276.70 L445.35,277.81 L446.76,278.90 L448.17,279.96 L449.58,281.01 L451.00,282.03 L452.41,283.03 L453.82,284.01 L455.23,284.96 L456.64,285.90 L458.05,286.82 L459.46,287.71 L460.88,288.59 L462.29,289.44 L463.70,290.28 L465.11,291.10 L466.52,291.89 L467.93,292.67 L469.34,293.43 L470.76,294.17 L472.17,294.90 L473.58,295.60 L474.99,296.29 L476.40,296.95 L477.81,297.61 L479.22,298.24 L480.64,298.86 L482.05,299.46 L483.46,300.05 L484.87,300.61 L486.28,301.17 L487.69,301.71 L489.10,302.23 L490.51,302.74 L491.93,303.23 L493.34,303.71 L494.75,304.17 L496.16,304.62 L497.57,305.06 L498.98,305.48 L500.39,305.90 L501.81,306.29 L503.22,306.68 L504.63,307.05 L506.04,307.41 L507.45,307.76 L508.86,308.10 L510.27,308.43 L511.69,308.74 L513.10,309.05 L514.51,309.34 L515.92,309.63 L517.33,309.90 L518.74,310.17 L520.15,310.42 L521.57,310.67 L522.98,310.90 L524.39,311.13 L525.80,311.35 L527.21,311.56 L528.62,311.77 L530.03,311.96 L531.45,312.15 L532.86,312.33 L534.27,312.50 L535.68,312.67 L537.09,312.83 L538.50,312.98 L539.91,313.12 L541.33,313.26 L542.74,313.40 L544.15,313.52 L545.56,313.64 L546.97,313.76 L548.38,313.87 L549.79,313.98 L551.21,314.08 L552.62,314.17 L554.03,314.26 L555.44,314.35 L556.85,314.43 L558.26,314.51 L559.67,314.59 L561.08,314.66 L562.50,314.72 L563.91,314.78 L565.32,314.84 L566.73,314.90 L568.14,314.95 L569.55,315.00 L570.96,315.05 L572.38,315.09 L573.79,315.13 L575.20,315.17 L576.61,315.21 L578.02,315.24 L579.43,315.27 L580.84,315.30 L582.26,315.33 L583.67,315.36 L585.08,315.38 L586.49,315.40" stroke="#0000ff" stroke-dasharray="5.2 4.7"/>
</g>
<path d="M92.50,315.90v-6.3M92.50,10.50v6.3M106.61,315.90v-3.8M106.61,10.50v3.8M120.73,315.90v-3.8M120.73,10.50v3.8M134.84,315.90v-3.8M134.84,10.50v3.8M148.96,315.90v-3.8M148.96,10.50v3.8M163.07,315.90v-6.3M163.07,10.50v6.3M177.18,315.90v-3.8M177.18,10.50v3.8M191.30,315.90v-3.8M191.30,10.50v3.8M205.41,315.90v-3.8M205.41,10.50v3.8M219.53,315.90v-3.8M219.53,10.50v3.8M233.64,315.90v-6.3M233.64,10.50v6.3M247.75,315.90v-3.8M247.75,10.50v3.8M261.87,315.90v-3.8M261.87,10.50v3.8M275.98,315.90v-3.8M275.98,10.50v3.8M290.10,315.90v-3.8M290.10,10.50v3.8M304.21,315.90v-6.3M304.21,10.50v6.3M318.32,315.90v-3.8M318.32,10.50v3.8M332.44,315.90v-3.8M332.44,10.50v3.8M346.55,315.90v-3.8M346.55,10.50v3.8M360.67,315.90v-3.8M360.67,10.50v3.8M374.78,315.90v-6.3M374.78,10.50v6.3M388.89,315.90v-3.8M388.89,10.50v3.8M403.01,315.90v-3.8M403.01,10.50v3.8M417.12,315.90v-3.8M417.12,10.50v3.8M431.24,315.90v-3.8M431.24,10.50v3.8M445.35,315.90v-6.3M445.35,10.50v6.3M459.46,315.90v-3.8M459.46,10.50v3.8M473.58,315.90v-3.8M473.58,10.50v3.8M487.69,315.90v-3.8M487.69,10.50v3.8M501.81,315.90v-3.8M501.81,10.50v3.8M515.92,315.90v-6.3M515.92,10.50v6.3M530.03,315.90v-3.8M530.03,10.50v3.8M544.15,315.90v-3.8M544.15,10.50v3.8M558.26,315.90v-3.8M558.26,10.50v3.8M572.38,315.90v-3.8M572.38,10.50v3.8M586.49,315.90v-6.3M586.49,10.50v6.3M92.50,315.90h6.3M586.49,315.90h-6.3M92.50,305.72h3.8M586.49,305.72h-3.8M92.50,295.54h3.8M586.49,295.54h-3.8M92.50,285.36h3.8M586.49,285.36h-3.8M92.50,275.18h3.8M586.49,275.18h-3.8M92.50,265.00h6.3M586.49,265.00h-6.3M92.50,254.82h3.8M586.49,254.82h-3.8M92.50,244.64h3.8M586.49,244.64h-3.8M92.50,234.46h3.8M586.49,234.46h-3.8M92.50,224.28h3.8M586.49,224.28h-3.8M92.50,214.10h6.3M586.49,214.10h-6.3M92.50,203.92h3.8M586.49,203.92h-3.8M92.50,193.74h3.8M586.49,193.74h-3.8M92.50,183.56h3.8M586.49,183.56h-3.8M92.50,173.38h3.8M586.49,173.38h-3.8M92.50,163.20h6.3M586.49,163.20h-6.3M92.50,153.02h3.8M586.49,153.02h-3.8M92.50,142.84h3.8M586.49,142.84h-3.8M92.50,132.66h3.8M586.49,132.66h-3.8M92.50,122.48h3.8M586.49,122.48h-3.8M92.50,112.30h6.3M586.49,112.30h-6.3M92.50,102.12h3.8M586.49,102.12h-3.8M92.50,91.94h3.8M586.49,91.94h-3.8M92.50,81.76h3.8M586.49,81.76h-3.8M92.50,71.58h3.8M586.49,71.58h-3.8M92.50,61.40h6.3M586.49,61.40h-6.3M92.50,51.22h3.8M586.49,51.22h-3.8M92.50,41.04h3.8M586.49,41.04h-3.8M92.50,30.86h3.8M586.49,30.86h-3.8M92.50,20.68h3.8M586.49,20.68h-3.8M92.50,10.50h6.3M586.49,10.50h-6.3" stroke="#666666" stroke-width="0.6" fill="none"/>
<text transform="translate(92.50,336.00) scale(0.929,1)" font-size="18.3" text-anchor="middle">0</text>
<text transform="translate(163.07,336.00) scale(0.929,1)" font-size="18.3" text-anchor="middle">5</text>
<text transform="translate(233.64,336.00) scale(0.929,1)" font-size="18.3" text-anchor="middle">10</text>
<text transform="translate(304.21,336.00) scale(0.929,1)" font-size="18.3" text-anchor="middle">15</text>
<text transform="translate(374.78,336.00) scale(0.929,1)" font-size="18.3" text-anchor="middle">20</text>
<text transform="translate(445.35,336.00) scale(0.929,1)" font-size="18.3" text-anchor="middle">25</text>
<text transform="translate(515.92,336.00) scale(0.929,1)" font-size="18.3" text-anchor="middle">30</text>
<text transform="translate(586.49,336.00) scale(0.929,1)" font-size="18.3" text-anchor="middle">35</text>
<text transform="translate(88.30,322.20) scale(0.929,1)" font-size="18.3" text-anchor="end">0</text>
<text transform="translate(28.30,271.30) scale(0.929,1)" font-size="18.3" text-anchor="start">1</text>
<path d="M43.15,263.80L49.05,269.70M43.15,269.70L49.05,263.80" stroke="#000" stroke-width="1.35" fill="none"/>
<text transform="translate(55.60,271.30) scale(0.929,1)" font-size="18.3" text-anchor="start">10</text>
<path d="M75.1,260.80H80.5" stroke="#000" stroke-width="1.05" fill="none"/>
<text transform="translate(81.40,263.50) scale(0.929,1)" font-size="12.6" text-anchor="start">7</text>
<text transform="translate(28.30,220.40) scale(0.929,1)" font-size="18.3" text-anchor="start">2</text>
<path d="M43.15,212.90L49.05,218.80M43.15,218.80L49.05,212.90" stroke="#000" stroke-width="1.35" fill="none"/>
<text transform="translate(55.60,220.40) scale(0.929,1)" font-size="18.3" text-anchor="start">10</text>
<path d="M75.1,209.90H80.5" stroke="#000" stroke-width="1.05" fill="none"/>
<text transform="translate(81.40,212.60) scale(0.929,1)" font-size="12.6" text-anchor="start">7</text>
<text transform="translate(28.30,169.50) scale(0.929,1)" font-size="18.3" text-anchor="start">3</text>
<path d="M43.15,162.00L49.05,167.90M43.15,167.90L49.05,162.00" stroke="#000" stroke-width="1.35" fill="none"/>
<text transform="translate(55.60,169.50) scale(0.929,1)" font-size="18.3" text-anchor="start">10</text>
<path d="M75.1,159.00H80.5" stroke="#000" stroke-width="1.05" fill="none"/>
<text transform="translate(81.40,161.70) scale(0.929,1)" font-size="12.6" text-anchor="start">7</text>
<text transform="translate(28.30,118.60) scale(0.929,1)" font-size="18.3" text-anchor="start">4</text>
<path d="M43.15,111.10L49.05,117.00M43.15,117.00L49.05,111.10" stroke="#000" stroke-width="1.35" fill="none"/>
<text transform="translate(55.60,118.60) scale(0.929,1)" font-size="18.3" text-anchor="start">10</text>
<path d="M75.1,108.10H80.5" stroke="#000" stroke-width="1.05" fill="none"/>
<text transform="translate(81.40,110.80) scale(0.929,1)" font-size="12.6" text-anchor="start">7</text>
<text transform="translate(28.30,67.70) scale(0.929,1)" font-size="18.3" text-anchor="start">5</text>
<path d="M43.15,60.20L49.05,66.10M43.15,66.10L49.05,60.20" stroke="#000" stroke-width="1.35" fill="none"/>
<text transform="translate(55.60,67.70) scale(0.929,1)" font-size="18.3" text-anchor="start">10</text>
<path d="M75.1,57.20H80.5" stroke="#000" stroke-width="1.05" fill="none"/>
<text transform="translate(81.40,59.90) scale(0.929,1)" font-size="12.6" text-anchor="start">7</text>
<text transform="translate(28.30,16.80) scale(0.929,1)" font-size="18.3" text-anchor="start">6</text>
<path d="M43.15,9.30L49.05,15.20M43.15,15.20L49.05,9.30" stroke="#000" stroke-width="1.35" fill="none"/>
<text transform="translate(55.60,16.80) scale(0.929,1)" font-size="18.3" text-anchor="start">10</text>
<path d="M75.1,6.30H80.5" stroke="#000" stroke-width="1.05" fill="none"/>
<text transform="translate(81.40,9.00) scale(0.929,1)" font-size="12.6" text-anchor="start">7</text>
<text x="339" y="363.8" font-size="17.7" text-anchor="middle">Q [GeV]</text>
<text transform="translate(16.6,163.45) rotate(-90)" font-size="18.15" text-anchor="middle">d<tspan font-style="italic">σ</tspan>/dQ [fb/GeV]</text>
<rect x="105.1" y="18.1" width="73.3" height="26.4" fill="#fff" stroke="#000" stroke-width="1.8"/>
<text y="36.4" font-size="15.2"><tspan x="111" font-style="italic">E</tspan><tspan x="119.6" dy="3.4" font-size="10.7">e</tspan><tspan x="126" dy="-3.4">=1 TeV</tspan></text>
<path d="M400.8,31.2H446.6" stroke="#ff0000" stroke-width="2.5" fill="none"/>
<text y="37.00" font-size="15.4"><tspan x="457.8" font-style="italic" font-size="15.9">m</tspan></text>
<text y="40.50" font-size="10.6" font-style="italic"><tspan x="471">S</tspan></text>
<text y="30.90" font-size="10.6"><tspan x="471.2" font-style="italic">h</tspan>−like</text>
<text y="37.00" font-size="15.4"><tspan x="500.3">=10 GeV</tspan></text>
<path d="M400.8,64.3H446.6" stroke="#000000" stroke-width="2.5" fill="none"/>
<text y="70.10" font-size="15.4"><tspan x="457.8" font-style="italic" font-size="15.9">m</tspan></text>
<text y="73.60" font-size="10.6" font-style="italic"><tspan x="471">S</tspan></text>
<text y="64.00" font-size="10.6"><tspan x="471.2" font-style="italic">h</tspan>−like</text>
<text y="70.10" font-size="15.4"><tspan x="500.3">=100 GeV</tspan></text>
<path d="M400.8,97.4H446.6" stroke="#0000ff" stroke-width="2.5" fill="none"/>
<text y="103.20" font-size="15.4"><tspan x="457.8" font-style="italic" font-size="15.9">m</tspan></text>
<text y="106.70" font-size="10.6" font-style="italic"><tspan x="471">S</tspan></text>
<text y="97.10" font-size="10.6"><tspan x="471.2" font-style="italic">h</tspan>−like</text>
<text y="103.20" font-size="15.4"><tspan x="500.3">=1 TeV</tspan></text>
<path d="M401.5,133.0H446.8" stroke="#ff0000" stroke-width="2.5" stroke-dasharray="4.5 3.37" fill="none"/>
<text y="139.15" font-size="15.4"><tspan x="457.8" font-style="italic" font-size="15.9">m</tspan></text>
<text y="142.65" font-size="10.6" font-style="italic"><tspan x="471">S</tspan></text>
<text y="130.25" font-size="10.6"><tspan x="471.2" font-style="italic">b</tspan>−only</text>
<text y="139.15" font-size="15.4"><tspan x="504.0">=10 GeV</tspan></text>
<path d="M401.5,167.4H446.8" stroke="#000000" stroke-width="2.5" stroke-dasharray="4.5 3.37" fill="none"/>
<text y="173.55" font-size="15.4"><tspan x="457.8" font-style="italic" font-size="15.9">m</tspan></text>
<text y="177.05" font-size="10.6" font-style="italic"><tspan x="471">S</tspan></text>
<text y="164.65" font-size="10.6"><tspan x="471.2" font-style="italic">b</tspan>−only</text>
<text y="173.55" font-size="15.4"><tspan x="504.0">=100 GeV</tspan></text>
<path d="M401.5,202.7H446.8" stroke="#0000ff" stroke-width="2.5" stroke-dasharray="4.5 3.37" fill="none"/>
<text y="208.85" font-size="15.4"><tspan x="457.8" font-style="italic" font-size="15.9">m</tspan></text>
<text y="212.35" font-size="10.6" font-style="italic"><tspan x="471">S</tspan></text>
<text y="199.95" font-size="10.6"><tspan x="471.2" font-style="italic">b</tspan>−only</text>
<text y="208.85" font-size="15.4"><tspan x="504.0">=1 TeV</tspan></text>
</svg></body></html>
